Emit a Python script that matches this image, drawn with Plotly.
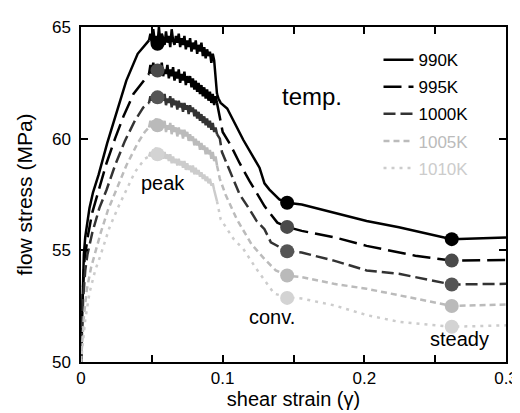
import plotly.graph_objects as go

# flow stress vs shear strain
# rising part (elastic + hardening)
r990_x = [0, 0.0005, 0.001, 0.002, 0.003, 0.006, 0.0085, 0.0125, 0.0185, 0.025, 0.032, 0.040, 0.044, 0.048]
r990_y = [50.0, 51.5, 53.0, 54.8, 55.6, 56.9, 57.6, 58.4, 59.8, 61.2, 62.6, 63.8, 64.1, 64.4]
r995_x = [0, 0.0006, 0.0012, 0.0025, 0.005, 0.008, 0.012, 0.018, 0.024, 0.030, 0.037, 0.044, 0.048]
r995_y = [50.0, 51.5, 53.0, 54.6, 55.7, 56.7, 57.6, 58.9, 60.0, 61.0, 62.0, 62.6, 62.9]
r1000_x = [0, 0.0006, 0.0015, 0.003, 0.0045, 0.008, 0.013, 0.018, 0.024, 0.031, 0.038, 0.044, 0.048]
r1000_y = [50.0, 51.3, 52.8, 54.1, 54.8, 55.8, 56.9, 57.7, 58.8, 59.9, 60.8, 61.4, 61.6]
r1005_x = [0, 0.001, 0.002, 0.004, 0.007, 0.0096, 0.014, 0.019, 0.025, 0.032, 0.040, 0.045, 0.048]
r1005_y = [50.0, 51.0, 52.0, 53.2, 54.2, 54.8, 55.8, 56.8, 57.7, 58.8, 59.8, 60.3, 60.5]
r1010_x = [0, 0.001, 0.003, 0.006, 0.010, 0.0137, 0.020, 0.026, 0.032, 0.038, 0.045, 0.048]
r1010_y = [50.0, 50.7, 51.9, 53.1, 54.1, 54.76, 56.0, 56.9, 57.7, 58.5, 59.1, 59.2]

# noisy peak plateau, common strain grid
peak_x = [0.048, 0.049, 0.050, 0.051, 0.052, 0.053, 0.054, 0.055, 0.056, 0.057,
          0.058, 0.059, 0.060, 0.061, 0.062, 0.063, 0.064, 0.065, 0.066, 0.067,
          0.068, 0.069, 0.070, 0.071, 0.072, 0.073, 0.074, 0.075, 0.076, 0.077,
          0.078, 0.079, 0.080, 0.081, 0.082, 0.083, 0.084, 0.085, 0.086, 0.087,
          0.088, 0.089, 0.090, 0.091, 0.092, 0.093, 0.094, 0.095, 0.096]
p990_y = [64.4, 64.7, 64.3, 64.9, 64.4, 64.6, 64.2, 65.0, 64.3, 64.7,
          64.5, 64.2, 64.8, 64.3, 64.6, 64.1, 64.9, 64.4, 64.2, 64.6,
          64.3, 64.7, 64.1, 64.5, 64.2, 64.6, 64.0, 64.4, 64.1, 64.5,
          63.9, 64.3, 64.0, 64.4, 63.8, 64.2, 63.9, 64.3, 63.7, 64.1,
          63.6, 64.0, 63.7, 63.9, 63.4, 63.8, 63.5, 62.6, 62.0]
p995_y = [62.9, 63.3, 62.9, 63.4, 63.0, 63.3, 62.8, 63.2, 63.0, 63.4,
          62.8, 63.1, 62.9, 63.3, 62.7, 63.1, 62.8, 63.2, 62.6, 63.0,
          62.7, 63.1, 62.5, 62.9, 62.6, 63.0, 62.4, 62.8, 62.5, 62.8,
          62.3, 62.7, 62.2, 62.6, 62.1, 62.5, 62.0, 62.4, 61.9, 62.3,
          61.8, 62.2, 61.7, 62.1, 61.6, 62.0, 61.5, 61.9, 61.6]
p1000_y = [61.6, 61.9, 61.7, 62.0, 61.8, 62.1, 61.7, 62.0, 61.6, 61.9,
           61.7, 62.0, 61.5, 61.8, 61.6, 61.9, 61.4, 61.8, 61.5, 61.7,
           61.3, 61.7, 61.4, 61.6, 61.2, 61.6, 61.3, 61.5, 61.1, 61.5,
           61.2, 61.4, 61.0, 61.3, 60.9, 61.2, 60.8, 61.1, 60.7, 61.0,
           60.6, 60.9, 60.5, 60.8, 60.4, 60.7, 60.3, 60.5, 60.2]
p1005_y = [60.5, 60.8, 60.5, 60.8, 60.6, 60.9, 60.5, 60.8, 60.4, 60.7,
           60.5, 60.8, 60.3, 60.6, 60.4, 60.7, 60.2, 60.6, 60.3, 60.5,
           60.1, 60.5, 60.2, 60.4, 60.0, 60.4, 60.1, 60.3, 59.9, 60.2,
           59.9, 60.1, 59.7, 60.0, 59.7, 59.9, 59.5, 59.8, 59.5, 59.7,
           59.3, 59.6, 59.3, 59.5, 59.1, 59.4, 59.0, 59.2, 58.8]
p1010_y = [59.2, 59.4, 59.2, 59.5, 59.3, 59.6, 59.2, 59.5, 59.2, 59.4,
           59.1, 59.4, 59.1, 59.3, 59.0, 59.3, 58.9, 59.2, 58.9, 59.1,
           58.8, 59.1, 58.8, 59.0, 58.7, 59.0, 58.6, 58.9, 58.6, 58.8,
           58.5, 58.8, 58.4, 58.7, 58.4, 58.6, 58.3, 58.5, 58.2, 58.4,
           58.1, 58.3, 58.0, 58.2, 57.9, 58.0, 57.7, 57.5, 57.2]

# softening and steady part
t990_x = [0.096, 0.097, 0.0986, 0.1032, 0.1146, 0.122, 0.126, 0.1295, 0.133, 0.140, 0.1455,
          0.1558, 0.1785, 0.2016, 0.2244, 0.247, 0.2617, 0.300]
t990_y = [62.0, 61.8, 61.6, 61.35, 59.94, 59.1, 58.7, 58.0, 57.72, 57.28, 57.13,
          57.05, 56.7, 56.31, 56.03, 55.72, 55.5, 55.58]
t995_x = [0.096, 0.098, 0.100, 0.1057, 0.112, 0.119, 0.1245, 0.1295, 0.1386, 0.1455,
          0.1558, 0.1785, 0.2016, 0.236, 0.2617, 0.300]
t995_y = [61.6, 61.0, 60.3, 59.7, 58.9, 58.1, 57.5, 56.98, 56.24, 56.05,
          55.87, 55.59, 55.2, 54.76, 54.54, 54.57]
t1000_x = [0.096, 0.098, 0.0995, 0.104, 0.109, 0.112, 0.119, 0.124, 0.1295, 0.134, 0.1455,
           0.1558, 0.1785, 0.2016, 0.2244, 0.247, 0.2617, 0.300]
t1000_y = [60.2, 60.0, 59.4, 58.7, 58.0, 57.5, 56.83, 56.31, 55.95, 55.36, 54.96,
           54.9, 54.54, 54.1, 53.95, 53.65, 53.47, 53.5]
t1005_x = [0.096, 0.098, 0.102, 0.110, 0.1203, 0.1295, 0.1375, 0.1455,
           0.1558, 0.1785, 0.2016, 0.2244, 0.247, 0.2617, 0.300]
t1005_y = [58.8, 58.2, 57.5, 56.39, 55.28, 54.61, 54.1, 53.87,
           53.8, 53.5, 53.28, 52.98, 52.69, 52.51, 52.57]
t1010_x = [0.096, 0.0975, 0.0986, 0.1078, 0.1146, 0.1238, 0.1318, 0.1364, 0.1455,
           0.1558, 0.1785, 0.2016, 0.2244, 0.236, 0.2617, 0.300]
t1010_y = [57.2, 56.7, 56.39, 55.5, 55.06, 54.17, 53.43, 53.06, 52.9,
           52.84, 52.54, 52.1, 51.8, 51.73, 51.58, 51.64]

# marked states: peak, convergence, steady
mark_x = [0.054, 0.1455, 0.2617]
mark_990 = [64.25, 57.13, 55.5]
mark_995 = [63.05, 56.05, 54.54]
mark_1000 = [61.85, 54.96, 53.47]
mark_1005 = [60.6, 53.87, 52.51]
mark_1010 = [59.3, 52.87, 51.58]

names = ['990K', '995K', '1000K', '1005K', '1010K']
rise = [(r990_x, r990_y), (r995_x, r995_y), (r1000_x, r1000_y), (r1005_x, r1005_y), (r1010_x, r1010_y)]
peaks = [p990_y, p995_y, p1000_y, p1005_y, p1010_y]
tails = [(t990_x, t990_y), (t995_x, t995_y), (t1000_x, t1000_y), (t1005_x, t1005_y), (t1010_x, t1010_y)]
marks = [mark_990, mark_995, mark_1000, mark_1005, mark_1010]
line_cols = ['#000000', '#000000', '#333333', '#bbbbbb', '#cccccc']
mark_cols = ['#000000', '#4a4a4a', '#555555', '#bababa', '#d3d3d3']
text_cols = ['#000000', '#000000', '#000000', '#bbbbbb', '#cccccc']
dashes = ['solid', '18px,7px', '12px,5px', '6px,4px', '3px,5px']

font = 'Liberation Sans, Arial, Helvetica, sans-serif'

fig = go.Figure()
for i in range(5):
    fig.add_trace(go.Scatter(
        x=rise[i][0], y=rise[i][1], mode='lines',
        name='<span style="color:%s">%s</span>' % (text_cols[i], names[i]),
        legendgroup=names[i],
        line=dict(color=line_cols[i], width=2.5, dash=dashes[i]),
    ))
    fig.add_trace(go.Scatter(
        x=peak_x, y=peaks[i], mode='lines', legendgroup=names[i], showlegend=False,
        line=dict(color=line_cols[i], width=2.5),
    ))
    fig.add_trace(go.Scatter(
        x=tails[i][0], y=tails[i][1], mode='lines', legendgroup=names[i], showlegend=False,
        line=dict(color=line_cols[i], width=2.5, dash=dashes[i]),
    ))
for i in range(5):
    fig.add_trace(go.Scatter(
        x=mark_x, y=marks[i], mode='markers', showlegend=False,
        marker=dict(color=mark_cols[i], size=14, line=dict(width=0)),
    ))

fig.add_annotation(x=0.163, y=61.9, text='temp.', showarrow=False, font=dict(size=24, color='black'))
fig.add_annotation(x=0.058, y=58.0, text='peak', showarrow=False, font=dict(size=20, color='black'))
fig.add_annotation(x=0.135, y=52.0, text='conv.', showarrow=False, font=dict(size=20, color='black'))
fig.add_annotation(x=0.267, y=51.05, text='steady', showarrow=False, font=dict(size=20, color='black'))

fig.update_layout(
    width=520, height=413,
    margin=dict(l=73, r=10, t=16, b=59),
    plot_bgcolor='white', paper_bgcolor='white',
    font=dict(family=font, size=17, color='black'),
    showlegend=True,
    legend=dict(x=0.70, y=0.955, xanchor='left', yanchor='top', bgcolor='rgba(0,0,0,0)',
                font=dict(size=17), tracegroupgap=2, itemwidth=30),
)
fig.update_xaxes(
    range=[0, 0.3], showgrid=False, zeroline=False,
    showline=True, linecolor='black', linewidth=1.5, mirror='ticks',
    ticks='inside', ticklen=7, tickwidth=1.5, tickcolor='black',
    tickvals=[0, 0.05, 0.1, 0.15, 0.2, 0.25, 0.3],
    ticktext=['0', '', '0.1', '', '0.2', '', '0.3'],
    title=dict(text='shear strain (γ)', font=dict(size=20), standoff=2),
)
fig.update_yaxes(
    range=[50, 65], showgrid=False, zeroline=False,
    showline=True, linecolor='black', linewidth=1.5, mirror='ticks',
    ticks='inside', ticklen=7, tickwidth=1.5, tickcolor='black',
    ticklabelstandoff=5,
    tickvals=[50, 55, 60, 65],
    title=dict(text='flow stress (MPa)', font=dict(size=21), standoff=14),
)

fig.write_html('out.html')
